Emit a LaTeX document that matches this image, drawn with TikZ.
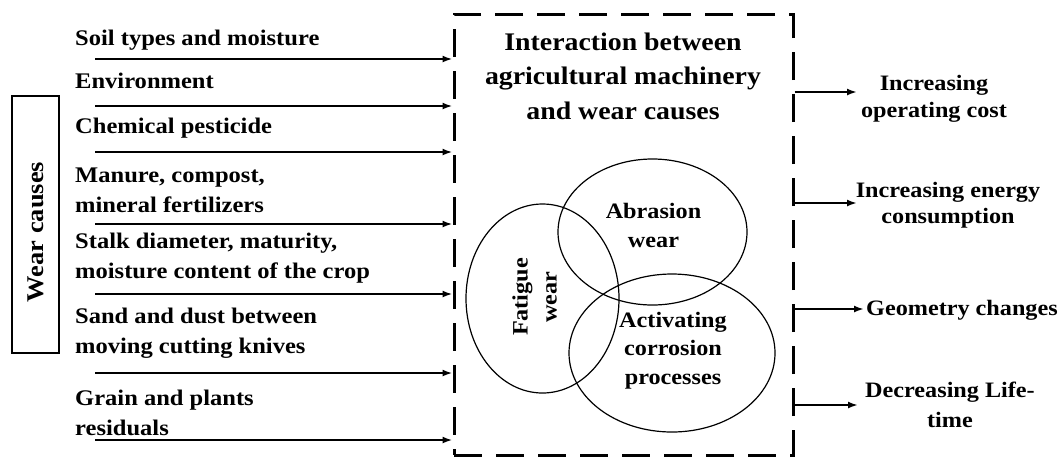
\documentclass[tikz,border=0pt]{standalone}
\usepackage{fontspec}
\setmainfont{Liberation Serif}[FakeStretch=1.1]
\usetikzlibrary{arrows.meta,shapes.geometric}
\begin{document}
\begin{tikzpicture}[x=1pt,y=-1pt,
  lbl/.style={anchor=base west,font=\fontsize{22.3}{29.5}\selectfont\bfseries,align=left,inner sep=0pt},
  rlbl/.style={anchor=base,font=\fontsize{22}{27}\selectfont\bfseries,align=center,inner sep=0pt},
  ctext/.style={font=\fontsize{22}{29}\selectfont\bfseries,align=center,inner sep=0pt},
  arr/.style={line width=2pt,-{Latex[length=10pt,width=7pt]}},
  wearell/.style={draw,ellipse,line width=1.2pt,inner sep=0pt}]
\useasboundingbox (0,0) rectangle (1059,456);
% dashed box
\node[draw,line width=3pt,dash pattern=on 28pt off 14pt,minimum width=339pt,minimum height=441pt,inner sep=0pt] (box) at (623.5,234.5) {};
% wear causes box
\node[draw,line width=2pt,minimum width=47pt,minimum height=257pt,inner sep=0pt] (wcbox) at (35.5,224.5) {};
\node[rotate=90,font=\fontsize{24}{28}\selectfont\bfseries,inner sep=0pt] (wctext) at (36,232) {Wear causes};
% left labels (anchor at the baseline of the last line)
\node[lbl] (l1) at (75,45) {Soil types and moisture};
\node[lbl] (l2) at (75,88) {Environment};
\node[lbl] (l3) at (75,133) {Chemical pesticide};
\node[lbl] (l4) at (75,212) {Manure, compost,\\mineral fertilizers};
\node[lbl] (l5) at (75,278) {Stalk diameter, maturity,\\moisture content of the crop};
\node[lbl] (l6) at (75,353) {Sand and dust between\\moving cutting knives};
\node[lbl] (l7) at (75,435) {Grain and plants\\residuals};
% left arrow starts
\coordinate (s1) at (95,59);
\coordinate (s2) at (95,106);
\coordinate (s3) at (95,152);
\coordinate (s4) at (95,224);
\coordinate (s5) at (95,294);
\coordinate (s6) at (95,373);
\coordinate (s7) at (95,440);
\foreach \i in {1,...,7} {\draw[arr] (s\i) -- (s\i -| box.west);}
% title
\node[anchor=base,font=\fontsize{25.3}{34.5}\selectfont\bfseries,align=center,inner sep=0pt] (title) at (623,119) {Interaction between\\agricultural machinery\\and wear causes};
% ellipses
\node[wearell,minimum width=189pt,minimum height=146pt] (abr) at (652.5,232) {};
\node[wearell,minimum width=153pt,minimum height=189pt] (fat) at (542.5,298.5) {};
\node[wearell,minimum width=206pt,minimum height=158pt] (act) at (672,353) {};
\node[ctext,anchor=base] (abrt) at (653.5,247) {Abrasion\\wear};
\node[ctext,rotate=90] (fatt) at (534.5,297) {Fatigue\\wear};
\node[ctext,anchor=base,font=\fontsize{22}{28.5}\selectfont\bfseries] (actt) at (673,384) {Activating\\corrosion\\processes};
% right labels
\node[rlbl] (r1) at (934,117) {Increasing\\operating cost};
\node[rlbl,font=\fontsize{22}{26}\selectfont\bfseries] (r2) at (948,223) {Increasing energy\\consumption};
\node[rlbl,anchor=base west] (r3) at (866,315) {Geometry changes};
\node[rlbl,font=\fontsize{22}{30}\selectfont\bfseries] (r4) at (950,427) {Decreasing Life-\\time};
% right arrows
\coordinate (e1) at (857,92);
\coordinate (e2) at (857,203);
\coordinate (e3) at (864,309);
\coordinate (e4) at (858,405);
\foreach \i in {1,...,4} {\draw[arr] (e\i -| box.east) -- (e\i);}
\end{tikzpicture}
\end{document}
